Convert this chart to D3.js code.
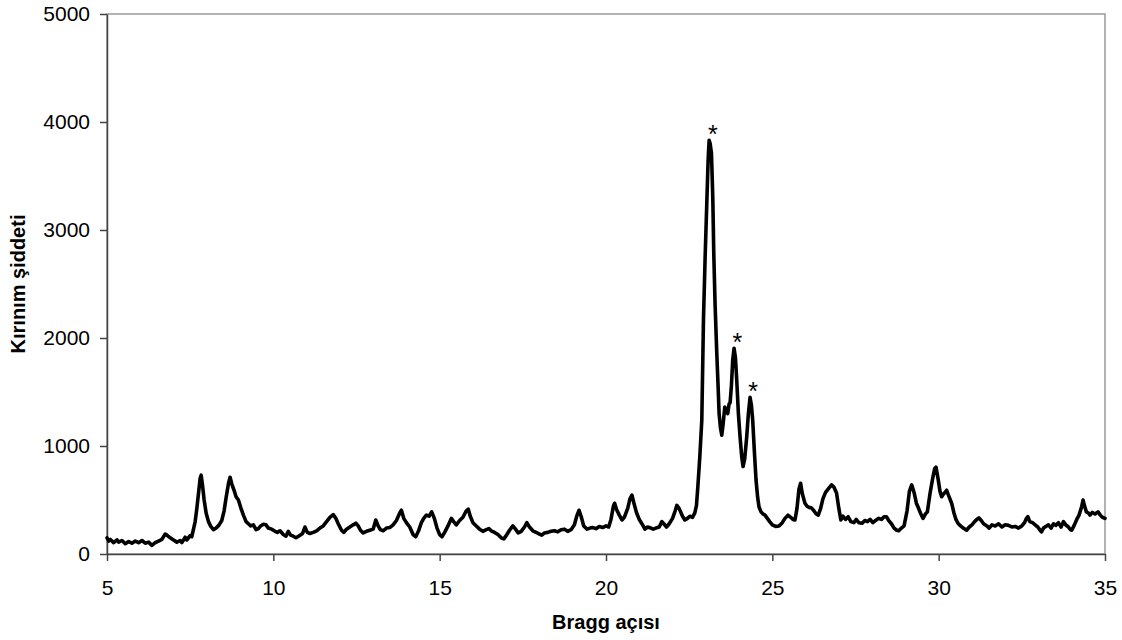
<!DOCTYPE html>
<html lang="tr">
<head>
<meta charset="UTF-8">
<title>XRD</title>
<style>
  body { margin: 0; background: #fff; }
  svg { display: block; font-family: "Liberation Sans", Arial, sans-serif; }
</style>
</head>
<body>
<svg id="chart" width="1122" height="640"></svg>
<script src="https://cdnjs.cloudflare.com/ajax/libs/d3/7.8.5/d3.min.js"></script>
<script>
// axis ticks
let xTicks = [5, 10, 15, 20, 25, 30, 35];
let yTicks = [0, 1000, 2000, 3000, 4000, 5000];

// peaks marked with an asterisk [angle, intensity]
let peakMarks = [[23.12, 3830], [23.86, 1905], [24.33, 1450]];

// scan: [Bragg angle, intensity]
let scan = [
  [5.0,150],[5.05,120],[5.1,135],[5.2,105],[5.3,130],[5.35,110],[5.45,125],[5.55,95],[5.65,115],[5.75,100],
  [5.85,120],[5.95,105],[6.05,125],[6.15,100],[6.25,110],[6.35,80],[6.45,105],[6.55,120],[6.65,135],[6.75,185],
  [6.8,175],[6.9,150],[7.0,130],[7.1,110],[7.2,125],[7.25,105],[7.35,155],[7.4,130],[7.5,170],[7.55,160],
  [7.6,230],[7.65,300],[7.7,420],[7.75,560],[7.8,700],[7.83,730],[7.87,640],[7.92,500],[7.98,380],[8.05,300],
  [8.12,255],[8.2,225],[8.28,240],[8.36,265],[8.45,310],[8.52,400],[8.58,520],[8.65,650],[8.7,710],[8.75,650],
  [8.82,590],[8.88,530],[8.95,500],[9.02,430],[9.1,360],[9.18,300],[9.25,280],[9.32,260],[9.4,270],[9.48,225],
  [9.55,235],[9.62,260],[9.7,275],[9.78,270],[9.85,240],[9.95,230],[10.05,210],[10.12,200],[10.2,215],[10.3,180],
  [10.38,165],[10.45,210],[10.52,175],[10.6,165],[10.68,150],[10.78,170],[10.88,190],[10.95,250],[11.02,200],[11.1,190],
  [11.2,200],[11.3,215],[11.4,240],[11.5,260],[11.6,300],[11.7,340],[11.8,365],[11.88,330],[11.95,280],[12.05,220],
  [12.12,200],[12.2,230],[12.3,250],[12.4,270],[12.48,285],[12.55,260],[12.62,220],[12.7,195],[12.8,210],[12.9,220],
  [13.0,230],[13.08,315],[13.15,260],[13.22,225],[13.3,215],[13.4,240],[13.5,245],[13.6,270],[13.7,310],[13.8,380],
  [13.85,405],[13.92,330],[14.0,290],[14.1,250],[14.2,180],[14.28,160],[14.36,210],[14.45,290],[14.52,330],[14.6,360],
  [14.68,350],[14.76,390],[14.84,330],[14.92,240],[15.0,180],[15.07,160],[15.15,200],[15.25,260],[15.35,330],[15.42,300],
  [15.5,270],[15.6,310],[15.7,340],[15.8,400],[15.86,415],[15.92,350],[16.0,290],[16.1,260],[16.2,230],[16.3,210],
  [16.4,225],[16.48,235],[16.55,215],[16.65,200],[16.75,180],[16.85,150],[16.93,140],[17.0,170],[17.1,220],[17.2,260],
  [17.28,230],[17.36,195],[17.45,210],[17.55,250],[17.62,290],[17.7,250],[17.8,215],[17.9,200],[18.0,185],[18.07,175],
  [18.15,195],[18.25,200],[18.35,210],[18.45,215],[18.55,205],[18.65,225],[18.75,230],[18.85,210],[18.95,225],[19.05,270],
  [19.12,350],[19.19,405],[19.26,340],[19.33,260],[19.43,230],[19.52,240],[19.6,245],[19.7,235],[19.8,255],[19.9,245],
  [20.0,260],[20.08,250],[20.15,320],[20.22,440],[20.26,470],[20.32,410],[20.4,360],[20.48,315],[20.55,340],[20.65,420],
  [20.72,510],[20.78,545],[20.84,470],[20.92,380],[21.0,320],[21.1,270],[21.17,230],[21.25,250],[21.35,240],[21.42,230],
  [21.5,240],[21.6,250],[21.68,300],[21.75,275],[21.82,250],[21.9,280],[22.0,330],[22.08,400],[22.13,450],[22.2,420],
  [22.3,350],[22.37,315],[22.45,330],[22.52,350],[22.6,340],[22.67,380],[22.72,450],[22.76,620],[22.82,900],[22.88,1240],
  [22.93,2170],[22.98,2750],[23.03,3250],[23.07,3650],[23.1,3830],[23.13,3800],[23.17,3710],[23.21,3300],[23.24,2780],[23.28,2300],
  [23.33,1860],[23.37,1550],[23.4,1300],[23.44,1170],[23.48,1100],[23.52,1200],[23.57,1360],[23.62,1330],[23.66,1300],[23.7,1390],
  [23.73,1400],[23.77,1560],[23.81,1800],[23.85,1905],[23.89,1820],[23.93,1610],[23.98,1300],[24.03,1085],[24.08,900],[24.12,810],
  [24.17,880],[24.23,1085],[24.28,1300],[24.33,1450],[24.37,1380],[24.41,1240],[24.46,950],[24.51,685],[24.56,520],[24.6,435],
  [24.66,390],[24.72,370],[24.78,360],[24.85,330],[24.92,300],[25.0,270],[25.1,255],[25.2,260],[25.3,290],[25.38,330],
  [25.47,360],[25.55,340],[25.62,320],[25.68,315],[25.74,420],[25.8,600],[25.85,655],[25.9,560],[25.98,470],[26.05,440],
  [26.12,430],[26.18,425],[26.25,400],[26.32,370],[26.38,360],[26.45,420],[26.52,510],[26.6,570],[26.7,610],[26.78,640],
  [26.85,620],[26.93,565],[27.0,420],[27.06,315],[27.12,350],[27.2,320],[27.28,345],[27.36,300],[27.45,290],[27.52,320],
  [27.6,290],[27.7,285],[27.78,310],[27.86,300],[27.94,320],[28.02,290],[28.1,310],[28.2,330],[28.28,320],[28.36,345],
  [28.43,345],[28.5,310],[28.58,280],[28.66,240],[28.74,220],[28.8,215],[28.88,240],[28.96,260],[29.05,400],[29.12,580],
  [29.19,640],[29.26,570],[29.33,470],[29.38,435],[29.45,380],[29.53,330],[29.6,370],[29.66,390],[29.74,560],[29.82,700],
  [29.88,790],[29.92,805],[29.98,700],[30.04,580],[30.09,530],[30.16,560],[30.24,590],[30.3,540],[30.39,470],[30.46,380],
  [30.52,320],[30.58,285],[30.66,260],[30.74,240],[30.84,220],[30.92,250],[31.0,270],[31.08,300],[31.15,320],[31.21,335],
  [31.28,310],[31.35,280],[31.45,260],[31.52,240],[31.6,270],[31.7,260],[31.8,280],[31.9,250],[32.0,270],[32.1,265],
  [32.2,250],[32.3,255],[32.4,240],[32.5,260],[32.58,290],[32.64,330],[32.68,345],[32.74,300],[32.82,290],[32.9,270],
  [32.98,250],[33.05,220],[33.09,205],[33.15,240],[33.22,255],[33.3,270],[33.38,240],[33.45,280],[33.52,265],[33.6,290],
  [33.68,250],[33.75,300],[33.82,270],[33.9,250],[33.96,225],[34.0,220],[34.08,270],[34.15,320],[34.22,360],[34.3,440],
  [34.34,500],[34.38,450],[34.44,390],[34.5,380],[34.55,360],[34.62,385],[34.7,370],[34.79,390],[34.86,360],[34.92,340],
  [35.0,330]
];

let width = 1122, height = 640;
let margin = {top: 14, right: 17, bottom: 86, left: 107};

let svg = d3.select("#chart");

let x = d3.scaleLinear()
    .domain([5, 35])
    .range([margin.left, width - margin.right]);

let y = d3.scaleLinear()
    .domain([0, 5000])
    .range([height - margin.bottom, margin.top]);

// plot area border (top and right in grey)
svg.append("rect")
    .attr("x", margin.left)
    .attr("y", margin.top)
    .attr("width", width - margin.left - margin.right)
    .attr("height", height - margin.top - margin.bottom)
    .attr("fill", "none")
    .attr("stroke", "#999")
    .attr("stroke-width", 1.5);

let xAxis = svg.append("g")
    .attr("transform", `translate(0,${height - margin.bottom})`)
    .call(d3.axisBottom(x).tickValues(xTicks).tickSize(7).tickPadding(19).tickSizeOuter(0));

let yAxis = svg.append("g")
    .attr("transform", `translate(${margin.left},0)`)
    .call(d3.axisLeft(y).tickValues(yTicks).tickFormat(d3.format("d")).tickSize(7).tickPadding(10).tickSizeOuter(0));

[xAxis, yAxis].forEach(g => {
  g.selectAll("path.domain").attr("stroke", "#444").attr("stroke-width", 1.5);
  g.selectAll(".tick line").attr("stroke", "#444").attr("stroke-width", 1.5);
  g.selectAll(".tick text")
      .attr("fill", "#000")
      .style("font-size", "21px")
      .style("font-family", "Liberation Sans, Arial, sans-serif");
});

let line = d3.line()
    .x(d => x(d[0]))
    .y(d => y(d[1]));

svg.append("path")
    .datum(scan)
    .attr("fill", "none")
    .attr("stroke", "#000")
    .attr("stroke-width", 3.6)
    .attr("stroke-linejoin", "round")
    .attr("stroke-linecap", "round")
    .attr("d", line);

svg.selectAll("text.star")
    .data(peakMarks)
    .enter()
    .append("text")
    .attr("class", "star")
    .attr("x", d => x(d[0]) + 3)
    .attr("y", d => y(d[1]) + 3)
    .attr("text-anchor", "middle")
    .style("font-size", "25px")
    .text("*");

// axis titles
svg.append("text")
    .attr("x", (margin.left + width - margin.right) / 2)
    .attr("y", 629)
    .attr("text-anchor", "middle")
    .style("font-size", "20px")
    .style("font-weight", "bold")
    .text("Bragg açısı");

svg.append("text")
    .attr("transform", `translate(25,${(margin.top + height - margin.bottom) / 2}) rotate(-90)`)
    .attr("text-anchor", "middle")
    .style("font-size", "20px")
    .style("font-weight", "bold")
    .text("Kırınım şiddeti");
</script>
</body>
</html>
